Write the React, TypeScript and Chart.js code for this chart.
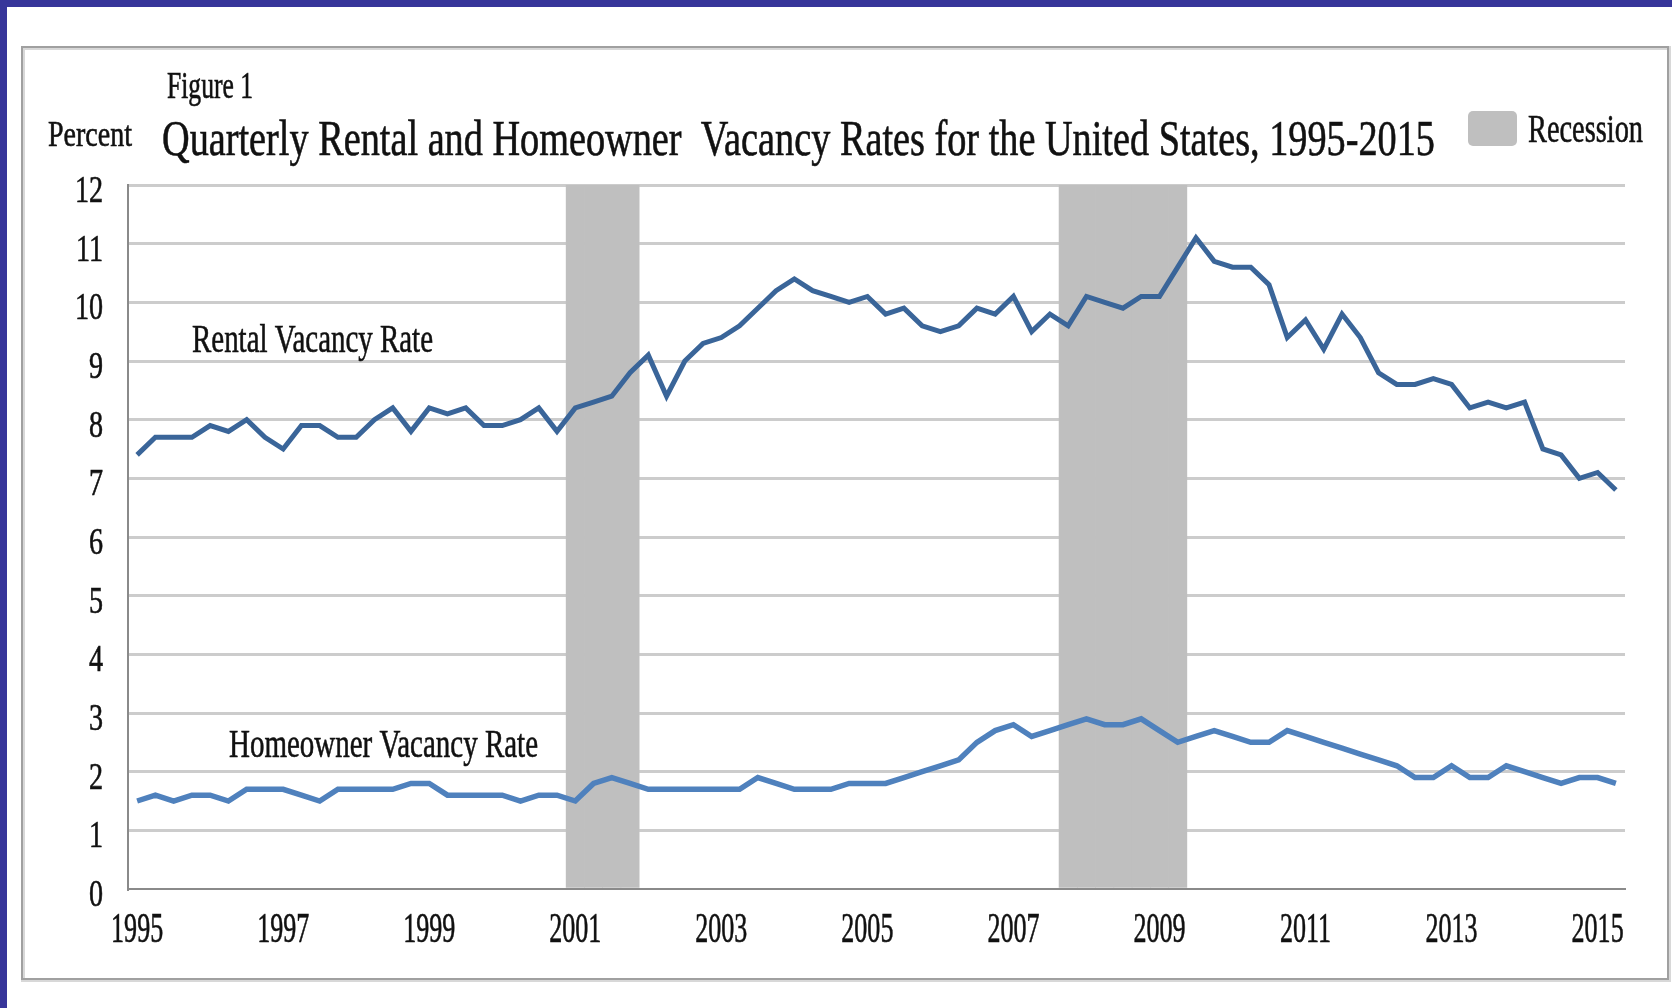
import React, { useEffect, useRef } from "react";
import { Chart, registerables } from "chart.js";

Chart.register(...registerables);

// ---- data ----
const years = [
  1995, 1996, 1997, 1998, 1999, 2000, 2001, 2002, 2003, 2004, 2005,
  2006, 2007, 2008, 2009, 2010, 2011, 2012, 2013, 2014, 2015,
];
const quarterNames = ["Q1", "Q2", "Q3", "Q4"];

// Rental vacancy rate (%), quarterly 1995 Q1 – 2015 Q2
const rentalRate = [
  7.4, 7.7, 7.7, 7.7, 7.9, 7.8, 8.0, 7.7, 7.5, 7.9, 7.9, 7.7, 7.7, 8.0, 8.2, 7.8,
  8.2, 8.1, 8.2, 7.9, 7.9, 8.0, 8.2, 7.8, 8.2, 8.3, 8.4, 8.8, 9.1, 8.4, 9.0, 9.3,
  9.4, 9.6, 9.9, 10.2, 10.4, 10.2, 10.1, 10.0, 10.1, 9.8, 9.9, 9.6, 9.5, 9.6, 9.9, 9.8,
  10.1, 9.5, 9.8, 9.6, 10.1, 10.0, 9.9, 10.1, 10.1, 10.6, 11.1, 10.7, 10.6, 10.6, 10.3, 9.4,
  9.7, 9.2, 9.8, 9.4, 8.8, 8.6, 8.6, 8.7, 8.6, 8.2, 8.3, 8.2, 8.3, 7.5, 7.4, 7.0,
  7.1, 6.8,
];

// Homeowner vacancy rate (%), quarterly 1995 Q1 – 2015 Q2
const homeownerRate = [
  1.5, 1.6, 1.5, 1.6, 1.6, 1.5, 1.7, 1.7, 1.7, 1.6, 1.5, 1.7, 1.7, 1.7, 1.7, 1.8,
  1.8, 1.6, 1.6, 1.6, 1.6, 1.5, 1.6, 1.6, 1.5, 1.8, 1.9, 1.8, 1.7, 1.7, 1.7, 1.7,
  1.7, 1.7, 1.9, 1.8, 1.7, 1.7, 1.7, 1.8, 1.8, 1.8, 1.9, 2.0, 2.1, 2.2, 2.5, 2.7,
  2.8, 2.6, 2.7, 2.8, 2.9, 2.8, 2.8, 2.9, 2.7, 2.5, 2.6, 2.7, 2.6, 2.5, 2.5, 2.7,
  2.6, 2.5, 2.4, 2.3, 2.2, 2.1, 1.9, 1.9, 2.1, 1.9, 1.9, 2.1, 2.0, 1.9, 1.8, 1.9,
  1.9, 1.8,
];

// Recession periods (first and last quarter)
const recessionStarts = ["2001 Q1", "2007 Q4"];
const recessionEnds = ["2001 Q4", "2009 Q2"];

const yTicks = [0, 1, 2, 3, 4, 5, 6, 7, 8, 9, 10, 11, 12];
const xTickYears = ["1995", "1997", "1999", "2001", "2003", "2005", "2007", "2009", "2011", "2013", "2015"];

const categories = years
  .flatMap((y) => quarterNames.map((q) => `${y} ${q}`))
  .slice(0, rentalRate.length);

const recessionValues = categories.map((c, i) => {
  for (let k = 0; k < recessionStarts.length; k++) {
    const s = categories.indexOf(recessionStarts[k]);
    const e = categories.indexOf(recessionEnds[k]);
    if (i >= s && i <= e) return 12;
  }
  return null;
});

// ---- styles ----
const NAVY = "#37359a";
const SERIF = "'Liberation Serif', 'Times New Roman', serif";
const RENTAL_COLOR = "#3a6599";
const HOME_COLOR = "#4f81bd";
const RECESSION_COLOR = "#bfbfbf";

function drawSqueezed(
  ctx: CanvasRenderingContext2D,
  text: string,
  x: number,
  y: number,
  size: number,
  sx: number,
  align: CanvasTextAlign
) {
  ctx.save();
  ctx.font = `${size}px ${SERIF}`;
  ctx.fillStyle = "#111";
  ctx.strokeStyle = "#111";
  ctx.lineWidth = 0.6;
  ctx.textBaseline = "alphabetic";
  ctx.textAlign = align;
  ctx.translate(x, y);
  ctx.scale(sx, 1);
  ctx.fillText(text, 0, 0);
  ctx.strokeText(text, 0, 0);
  ctx.restore();
}

function drawFitted(
  ctx: CanvasRenderingContext2D,
  text: string,
  left: number,
  y: number,
  size: number,
  width: number
) {
  ctx.save();
  ctx.font = `${size}px ${SERIF}`;
  const w = ctx.measureText(text).width;
  ctx.restore();
  drawSqueezed(ctx, text, left, y, size, width / w, "left");
}

const framePlugin = {
  id: "frame",
  beforeDraw(chart: any) {
    const ctx = chart.ctx as CanvasRenderingContext2D;
    ctx.save();
    ctx.fillStyle = "#ffffff";
    ctx.fillRect(0, 0, chart.width, chart.height);
    ctx.fillStyle = NAVY;
    ctx.fillRect(0, 0, chart.width, 7);
    ctx.fillRect(0, 0, 7, chart.height);
    // outer box with soft shadow
    ctx.strokeStyle = "#d8d8d8";
    ctx.lineWidth = 4;
    ctx.strokeRect(23, 48, 1646, 932);
    ctx.strokeStyle = "#a0a0a0";
    ctx.lineWidth = 2;
    ctx.strokeRect(22, 47, 1646, 932);
    ctx.restore();
  },
  afterDraw(chart: any) {
    const ctx = chart.ctx as CanvasRenderingContext2D;
    const xs = chart.scales.x;
    const ys = chart.scales.y;

    // y tick labels
    yTicks.forEach((v) => {
      const py = ys.getPixelForValue(v);
      drawSqueezed(ctx, String(v), 103, py + 17, 38, 0.74, "right");
    });
    // x tick labels
    xTickYears.forEach((yr) => {
      const idx = categories.indexOf(`${yr} Q1`);
      const px = xs.getPixelForValue(idx);
      drawSqueezed(ctx, yr, px, 942, 42, 0.62, "center");
    });

    // titles
    drawFitted(ctx, "Figure 1", 167, 98, 38, 86);
    drawFitted(ctx, "Percent", 48, 146, 36, 84);
    drawFitted(
      ctx,
      "Quarterly Rental and Homeowner  Vacancy Rates for the United States, 1995-2015",
      162,
      155,
      50,
      1273
    );

    // series labels
    drawFitted(ctx, chart.data.datasets[0].label, 192, 352, 41, 241);
    drawFitted(ctx, chart.data.datasets[1].label, 229, 757, 41, 309);

    // legend (recession)
    const rec = chart.data.datasets[2];
    ctx.save();
    ctx.fillStyle = rec.backgroundColor;
    ctx.beginPath();
    (ctx as any).roundRect(1468, 111, 49, 35, 5);
    ctx.fill();
    ctx.restore();
    drawFitted(ctx, rec.label, 1528, 142, 40, 115);
  },
};

export default function App() {
  const ref = useRef<HTMLCanvasElement | null>(null);

  useEffect(() => {
    if (!ref.current) return;
    const chart = new Chart(ref.current, {
      type: "line",
      data: {
        labels: categories,
        datasets: [
          {
            type: "line",
            label: "Rental Vacancy Rate",
            data: rentalRate,
            borderColor: RENTAL_COLOR,
            borderWidth: 5,
            pointRadius: 0,
            tension: 0,
            order: 0,
          },
          {
            type: "line",
            label: "Homeowner Vacancy Rate",
            data: homeownerRate,
            borderColor: HOME_COLOR,
            borderWidth: 5.5,
            pointRadius: 0,
            tension: 0,
            order: 1,
          },
          {
            type: "bar",
            label: "Recession",
            data: recessionValues as any,
            backgroundColor: RECESSION_COLOR,
            borderWidth: 0,
            barPercentage: 1,
            categoryPercentage: 1,
            order: 5,
          } as any,
        ],
      },
      options: {
        animation: false,
        responsive: false,
        devicePixelRatio: 1,
        layout: { padding: { left: 128, right: 47, top: 185, bottom: 119 } },
        plugins: {
          legend: { display: false },
          tooltip: { enabled: false },
          title: { display: false },
        },
        scales: {
          x: {
            type: "category",
            offset: true,
            grid: { display: false, drawTicks: false },
            ticks: { display: false },
            border: { display: true, color: "#8a8a8a", width: 2 },
          },
          y: {
            min: 0,
            max: 12,
            ticks: { display: false, stepSize: 1 },
            grid: {
              drawTicks: false,
              lineWidth: 3,
              color: (c: any) => (c.tick && c.tick.value === 0 ? "rgba(0,0,0,0)" : "#cccccc"),
            },
            border: { display: true, color: "#8a8a8a", width: 2 },
          },
        },
      },
      plugins: [framePlugin],
    });
    return () => chart.destroy();
  }, []);

  return (
    <div style={{ position: "fixed", left: 0, top: 0, width: 1672, height: 1008 }}>
      <canvas ref={ref} width={1672} height={1008} style={{ display: "block" }} />
    </div>
  );
}
